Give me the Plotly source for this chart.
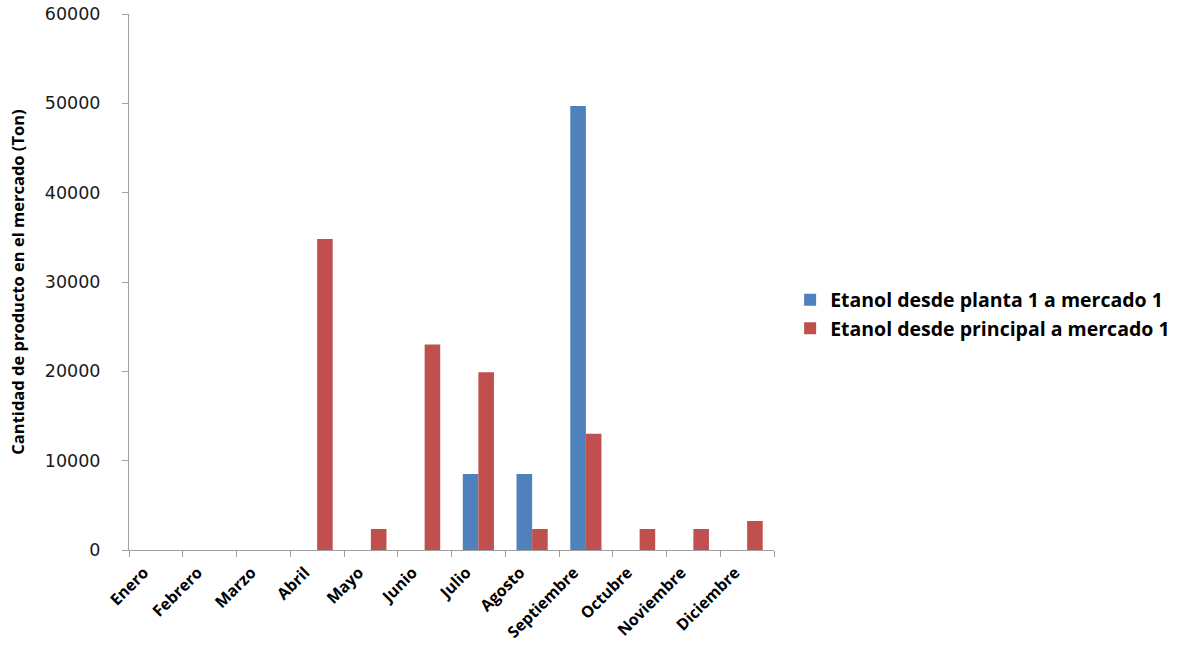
import plotly.graph_objects as go

meses = ["Enero", "Febrero", "Marzo", "Abril", "Mayo", "Junio", "Julio",
         "Agosto", "Septiembre", "Octubre", "Noviembre", "Diciembre"]
planta1 = [0, 0, 0, 0, 0, 0, 8500, 8500, 49700, 0, 0, 0]
principal = [0, 0, 0, 34800, 2350, 23000, 19900, 2350, 13000, 2350, 2350, 3250]
y_ticks = [0, 10000, 20000, 30000, 40000, 50000, 60000]

fig = go.Figure()
fig.add_trace(go.Bar(x=meses, y=planta1, name="Etanol desde planta 1 a mercado 1",
                     marker=dict(color="#4F81BD", line=dict(width=0))))
fig.add_trace(go.Bar(x=meses, y=principal, name="Etanol desde principal a mercado 1",
                     marker=dict(color="#C0504D", line=dict(width=0))))

fig.update_layout(
    width=1191, height=647,
    margin=dict(l=129, r=417, t=14, b=97),
    paper_bgcolor="white", plot_bgcolor="white",
    barmode="group", bargap=0.42, bargroupgap=0,
    showlegend=True,
    legend=dict(x=1.025, y=0.44, xanchor="left", yanchor="middle",
                font=dict(family="Open Sans", size=19.5, color="black", weight="bold"),
                itemwidth=30, tracegroupgap=4),
    xaxis=dict(
        type="category", showline=True, linecolor="#A0A0A0", linewidth=1,
        ticks="outside", tickson="boundaries", ticklen=6, tickcolor="#A0A0A0",
        tickangle=-45, showgrid=False, zeroline=False, automargin=False,
        tickfont=dict(family="Open Sans", size=16, color="black", weight="bold"),
        ticklabelshift=-12, ticklabelstandoff=6,
    ),
    yaxis=dict(
        range=[0, 60000], tickvals=y_ticks, ticktext=[str(v) for v in y_ticks],
        showline=True, linecolor="#A0A0A0", linewidth=1,
        ticks="outside", ticklen=6, tickcolor="#A0A0A0",
        showgrid=False, zeroline=False, automargin=False,
        tickfont=dict(family="DejaVu Sans", size=17.5, color="#1a1a1a"),
        ticklabelstandoff=18,
        title=dict(text="Cantidad de producto en el mercado (Ton)", standoff=16,
                   font=dict(family="Open Sans", size=16.5, color="black", weight="bold")),
    ),
)

fig.write_html("out.html")
